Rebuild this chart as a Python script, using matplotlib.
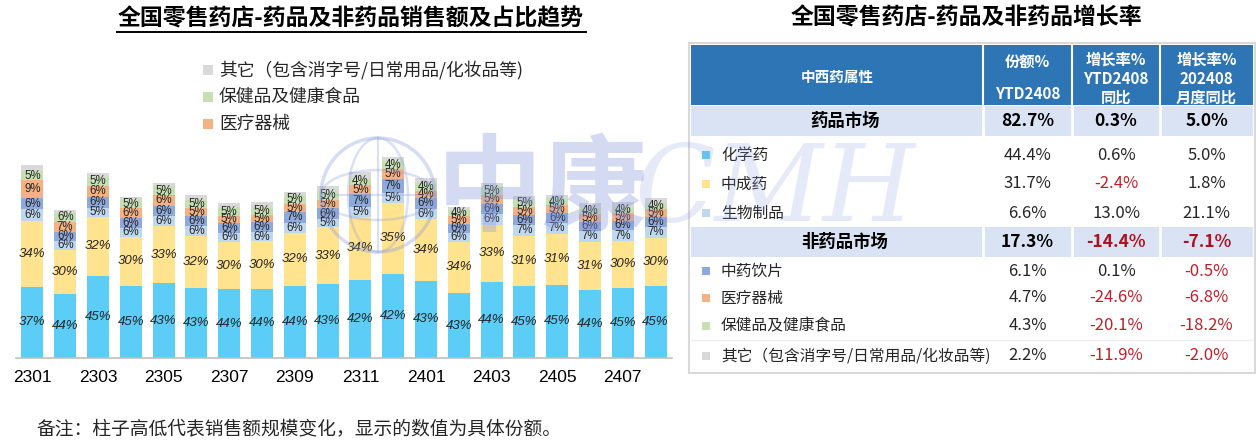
import matplotlib
matplotlib.use("Agg")
import matplotlib.pyplot as plt
from matplotlib.patches import Rectangle, Circle, Ellipse
import numpy as np

plt.rcParams['font.family'] = ['Liberation Sans', 'Noto Sans CJK SC', 'DejaVu Sans']

# ---------------- data ----------------
months = ['2301', '2302', '2303', '2304', '2305', '2306', '2307', '2308', '2309', '2310',
          '2311', '2312', '2401', '2402', '2403', '2404', '2405', '2406', '2407', '2408']
# relative sales scale (bar height)
sales_index = [193, 148, 185, 161, 175, 163, 155, 156, 166, 172,
               186, 201, 180, 151, 175, 162, 163, 155, 156, 160]
chem =   [37, 44, 45, 45, 43, 43, 44, 44, 44, 43, 42, 42, 43, 43, 44, 45, 45, 44, 45, 45]
tcm =    [34, 30, 32, 30, 33, 32, 30, 30, 32, 33, 34, 35, 34, 34, 33, 31, 31, 31, 30, 30]
bio =    [6, 6, 5, 6, 6, 6, 6, 6, 6, 5, 5, 5, 6, 6, 6, 7, 7, 7, 7, 7]
herbal = [6, 6, 6, 6, 6, 6, 6, 6, 7, 6, 7, 7, 6, 6, 6, 6, 6, 6, 6, 6]
device = [9, 7, 6, 6, 6, 5, 5, 5, 5, 5, 5, 5, 4, 5, 5, 5, 5, 5, 5, 5]
health = [5, 6, 5, 5, 5, 5, 5, 5, 5, 5, 4, 4, 4, 4, 5, 5, 4, 4, 4, 4]
other =  [3, 2, 2, 2, 2, 3, 3, 3, 2, 3, 3, 2, 3, 2, 2, 2, 2, 3, 3, 3]

series_names = ['化学药', '中成药', '生物制品', '中药饮片', '医疗器械', '保健品及健康食品',
                '其它（包含消字号/日常用品/化妆品等)']
series_colors = ['#5BCDF7', '#FFE38F', '#BFD8EF', '#8EA9DB', '#F4B183', '#C6E0B4', '#D9D9D9']

legend_names = ['其它（包含消字号/日常用品/化妆品等)', '保健品及健康食品', '医疗器械']
legend_colors = ['#D9D9D9', '#C6E0B4', '#F4B183']

# table data
tbl_names = ['药品市场', '化学药', '中成药', '生物制品', '非药品市场',
             '中药饮片', '医疗器械', '保健品及健康食品', '其它（包含消字号/日常用品/化妆品等)']
tbl_is_section = [True, False, False, False, True, False, False, False, False]
tbl_share = ['82.7%', '44.4%', '31.7%', '6.6%', '17.3%', '6.1%', '4.7%', '4.3%', '2.2%']
tbl_ytd = ['0.3%', '0.6%', '-2.4%', '13.0%', '-14.4%', '0.1%', '-24.6%', '-20.1%', '-11.9%']
tbl_month = ['5.0%', '5.0%', '1.8%', '21.1%', '-7.1%', '-0.5%', '-6.8%', '-18.2%', '-2.0%']
tbl_marker = [None, '#5BCDF7', '#FFE38F', '#BFD8EF', None, '#8EA9DB', '#F4B183', '#C6E0B4', '#D9D9D9']

# ---------------- figure ----------------
W, H = 1256, 440
fig = plt.figure(figsize=(W / 100, H / 100), dpi=100)
fig.patch.set_facecolor('white')

def fx(px):
    return px / W

def fy(py):
    return 1 - py / H

base_y, top_y = 358, 150
ax = fig.add_axes([fx(16), fy(base_y), fx(672) - fx(16), fy(top_y) - fy(base_y)])
ax.set_xlim(-0.5, len(months) - 0.5)
ax.set_ylim(0, base_y - top_y)
for s in ['top', 'right', 'left']:
    ax.spines[s].set_visible(False)
ax.spines['bottom'].set_color('#BFBFBF')
ax.spines['bottom'].set_linewidth(1.2)
ax.set_yticks([])
x = np.arange(len(months))
ax.set_xticks(x[::2])
ax.set_xticklabels(months[::2], fontsize=12.5, color='#000000')
ax.tick_params(axis='x', length=0, pad=9)

all_series = [chem, tcm, bio, herbal, device, health, other]
shares = np.array(all_series, dtype=float)
totals = shares.sum(axis=0)
bottom = np.zeros(len(months))
for i, (vals, col) in enumerate(zip(all_series, series_colors)):
    seg = np.array(vals) / totals * np.array(sales_index)
    ax.bar(x, seg, bottom=bottom, width=0.67, color=col, edgecolor='none', zorder=2)
    if i < 6:
        for j in range(len(months)):
            yc = bottom[j] + seg[j] / 2
            if i < 2:
                ax.text(x[j], yc, f'{vals[j]}%', ha='center', va='center', fontsize=9.5,
                        style='italic', color='#262626', zorder=3)
            else:
                ax.text(x[j], yc, f'{vals[j]}%', ha='center', va='center', fontsize=8.3,
                        color='#262626', zorder=3)
    bottom += seg

# overlay axes in pixel coordinates
ov = fig.add_axes([0, 0, 1, 1], zorder=5)
ov.set_xlim(0, W)
ov.set_ylim(H, 0)
ov.axis('off')
ov.patch.set_alpha(0)

# titles
ov.text(351, 19, '全国零售药店-药品及非药品销售额及占比趋势', ha='center', va='center',
        fontsize=16.5, fontweight='heavy', family=['Noto Sans CJK SC'], color='#000000')
ov.plot([117, 586], [32, 32], color='black', lw=1.4)
ov.text(966, 18, '全国零售药店-药品及非药品增长率', ha='center', va='center',
        fontsize=16.5, fontweight='heavy', family=['Noto Sans CJK SC'], color='#000000')

# legend (manual)
for k, (nm, col) in enumerate(zip(legend_names, legend_colors)):
    yy = 70 + k * 27
    ov.add_patch(Rectangle((203, yy - 5), 10, 10, facecolor=col, edgecolor='none'))
    ov.text(219, yy, nm, ha='left', va='center', fontsize=12.8,
            family=['Noto Sans CJK SC'], color='#262626')

# footnote
ov.text(36, 429, '备注：柱子高低代表销售额规模变化，显示的数值为具体份额。', ha='left', va='center',
        fontsize=13.5, family=['Noto Sans CJK SC'], color='#262626')

# ---------------- table ----------------
tx0, tx1 = 691, 1253
col_edges = [tx0, 983, 1072, 1160, tx1]
col_centers = [(col_edges[i] + col_edges[i + 1]) / 2 for i in range(4)]
ov.add_patch(Rectangle((689, 43), 1255 - 689, 373 - 43, facecolor='white',
                       edgecolor='#D9D9D9', lw=1.5, zorder=1))
# header
ov.add_patch(Rectangle((tx0, 45), tx1 - tx0, 60, facecolor='#2E75B6', edgecolor='none', zorder=2))
for xe in col_edges[1:-1]:
    ov.plot([xe, xe], [45, 105], color='white', lw=1.5, zorder=3)
ov.text(837, 77, '中西药属性', ha='center', va='center', fontsize=10.5, fontweight='bold',
        color='white', family=['Noto Sans CJK SC'], zorder=4)
ov.text(col_centers[1], 63, '份额%', ha='center', va='center', fontsize=11, fontweight='bold',
        color='white', family=['Noto Sans CJK SC'], zorder=4)
ov.text(col_centers[1], 94, 'YTD2408', ha='center', va='center', fontsize=11, fontweight='bold',
        color='white', family=['Noto Sans CJK SC'], zorder=4)
for ci, lines in [(2, ['增长率%', 'YTD2408', '同比']), (3, ['增长率%', '202408', '月度同比'])]:
    for li, t in enumerate(lines):
        ov.text(col_centers[ci], 60 + li * 19, t, ha='center', va='center', fontsize=11,
                fontweight='bold', color='white', family=['Noto Sans CJK SC'], zorder=4)

row_y = [121, 155, 184, 213, 242, 271, 298, 326, 356]
section_spans = {0: (106, 136), 4: (227, 257)}
for r, sp in section_spans.items():
    ov.add_patch(Rectangle((tx0, sp[0]), tx1 - tx0, sp[1] - sp[0], facecolor='#DAE3F3',
                           edgecolor='none', zorder=2))
    for xe in col_edges[1:-1]:
        ov.plot([xe, xe], [sp[0], sp[1]], color='white', lw=2, zorder=3)
ov.plot([tx0, tx1], [340, 340], color='#EDEDED', lw=1, zorder=2)

for r in range(len(tbl_names)):
    yy = row_y[r]
    sec = tbl_is_section[r]
    fw = 'bold' if sec else 'normal'
    fs = 12.5 if sec else 12
    if sec:
        ov.text(845, yy, tbl_names[r], ha='center', va='center', fontsize=12.5, fontweight='bold',
                family=['Noto Sans CJK SC'], color='#000000', zorder=4)
    else:
        ov.add_patch(Rectangle((702, yy - 4), 8, 8, facecolor=tbl_marker[r], edgecolor='none', zorder=4))
        ov.text(721, yy, tbl_names[r], ha='left', va='center', fontsize=11.3,
                family=['Noto Sans CJK SC'], color='#262626', zorder=4)
    for ci, vals in [(1, tbl_share), (2, tbl_ytd), (3, tbl_month)]:
        v = vals[r]
        if v.startswith('-'):
            col = '#B01020' if sec else '#C0202A'
        else:
            col = '#000000' if sec else '#262626'
        ov.text(col_centers[ci], yy, v, ha='center', va='center', fontsize=fs, fontweight=fw,
                family=['Noto Sans CJK SC'], color=col, zorder=4)

# ---------------- watermark ----------------
wm = '#8C9BE0'
ov.add_patch(Circle((378, 195), 57, facecolor='none', edgecolor=wm, lw=2.5, alpha=0.35, zorder=6))
ov.add_patch(Ellipse((378, 195), 60, 114, facecolor='none', edgecolor=wm, lw=1.8, alpha=0.3, zorder=6))
ov.add_patch(Ellipse((378, 195), 114, 50, facecolor='none', edgecolor=wm, lw=1.8, alpha=0.3, zorder=6))
ov.plot([321, 435], [195, 195], color=wm, lw=1.5, alpha=0.3, zorder=6)
ov.plot([378, 378], [138, 252], color=wm, lw=1.5, alpha=0.3, zorder=6)
ov.text(542, 192, '中康', ha='center', va='center', fontsize=76, fontweight='bold', style='italic',
        family=['Noto Sans CJK SC'], color=wm, alpha=0.36, zorder=6)
ov.text(775, 192, 'CMH', ha='center', va='center', fontsize=76, style='italic',
        family=['DejaVu Serif'], color=wm, alpha=0.22, zorder=6)

fig.savefig('out.png', dpi=100, facecolor='white')
